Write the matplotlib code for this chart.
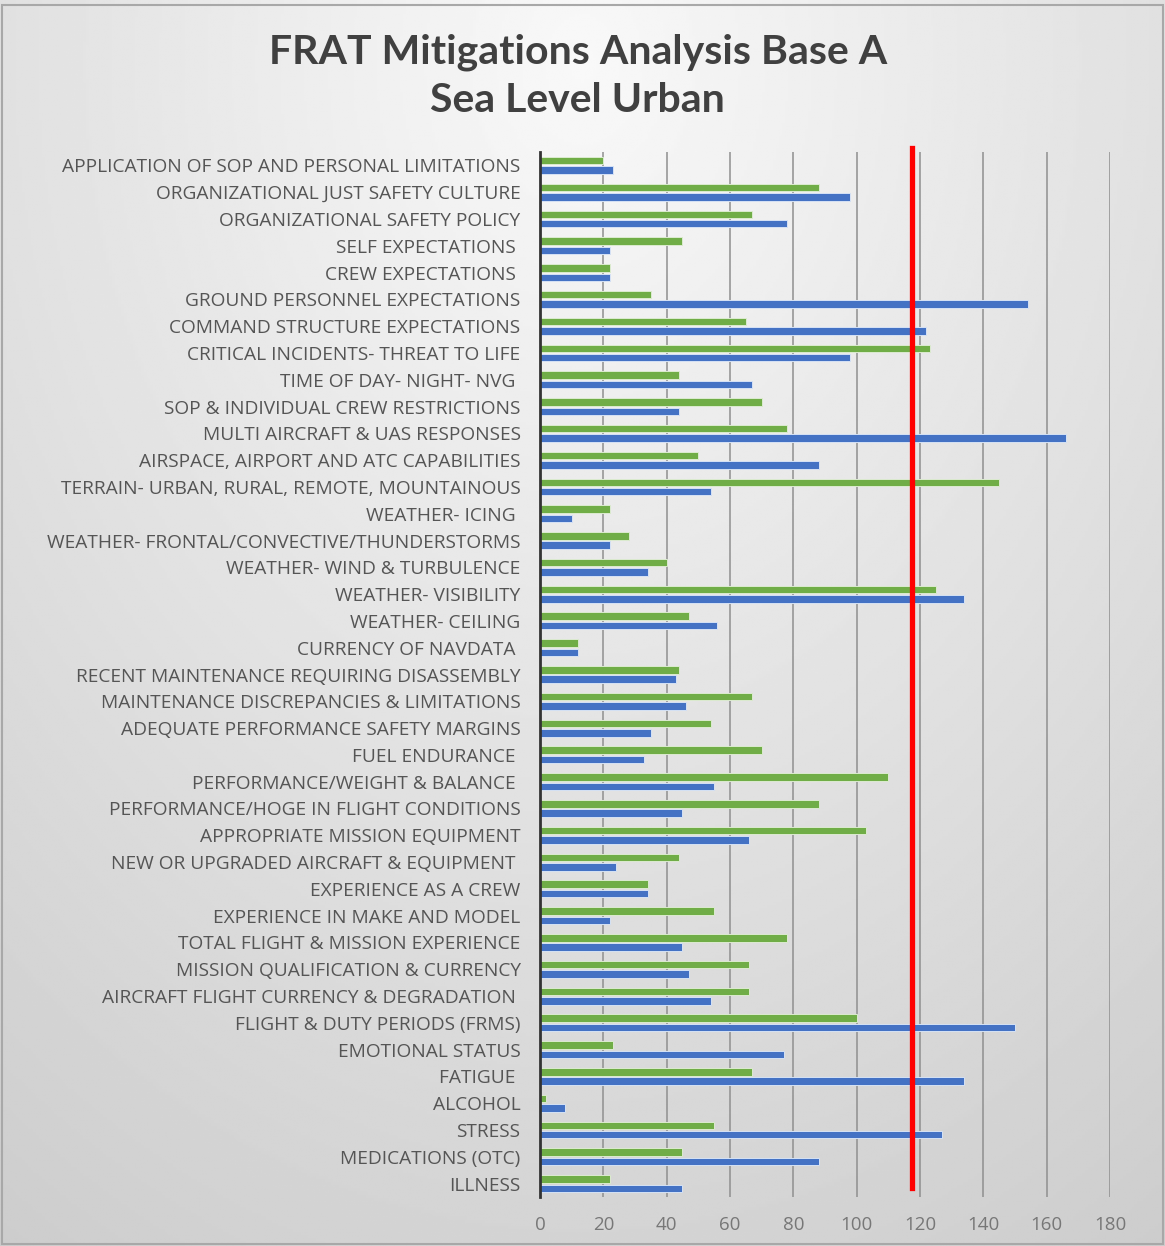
import numpy as np
import matplotlib
matplotlib.use('Agg')
import matplotlib.pyplot as plt
from matplotlib.patches import Rectangle

# ── 資料 ────────────────────────────────────────────────
categories = [
    'APPLICATION OF SOP AND PERSONAL LIMITATIONS',
    'ORGANIZATIONAL JUST SAFETY CULTURE',
    'ORGANIZATIONAL SAFETY POLICY',
    'SELF EXPECTATIONS ',
    'CREW EXPECTATIONS ',
    'GROUND PERSONNEL EXPECTATIONS',
    'COMMAND STRUCTURE EXPECTATIONS',
    'CRITICAL INCIDENTS- THREAT TO LIFE',
    'TIME OF DAY- NIGHT- NVG ',
    'SOP & INDIVIDUAL CREW RESTRICTIONS',
    'MULTI AIRCRAFT & UAS RESPONSES',
    'AIRSPACE, AIRPORT AND ATC CAPABILITIES',
    'TERRAIN- URBAN, RURAL, REMOTE, MOUNTAINOUS',
    'WEATHER- ICING ',
    'WEATHER- FRONTAL/CONVECTIVE/THUNDERSTORMS',
    'WEATHER- WIND & TURBULENCE',
    'WEATHER- VISIBILITY',
    'WEATHER- CEILING',
    'CURRENCY OF NAVDATA ',
    'RECENT MAINTENANCE REQUIRING DISASSEMBLY',
    'MAINTENANCE DISCREPANCIES & LIMITATIONS',
    'ADEQUATE PERFORMANCE SAFETY MARGINS',
    'FUEL ENDURANCE ',
    'PERFORMANCE/WEIGHT & BALANCE ',
    'PERFORMANCE/HOGE IN FLIGHT CONDITIONS',
    'APPROPRIATE MISSION EQUIPMENT',
    'NEW OR UPGRADED AIRCRAFT & EQUIPMENT ',
    'EXPERIENCE AS A CREW',
    'EXPERIENCE IN MAKE AND MODEL',
    'TOTAL FLIGHT & MISSION EXPERIENCE',
    'MISSION QUALIFICATION & CURRENCY',
    'AIRCRAFT FLIGHT CURRENCY & DEGRADATION ',
    'FLIGHT & DUTY PERIODS (FRMS)',
    'EMOTIONAL STATUS',
    'FATIGUE ',
    'ALCOHOL',
    'STRESS',
    'MEDICATIONS (OTC)',
    'ILLNESS',
]
green_vals = [20, 88, 67, 45, 22, 35, 65, 123, 44, 70,
              78, 50, 145, 22, 28, 40, 125, 47, 12, 44,
              67, 54, 70, 110, 88, 103, 44, 34, 55, 78,
              66, 66, 100, 23, 67, 2, 55, 45, 22]
blue_vals = [23, 98, 78, 22, 22, 154, 122, 98, 67, 44,
             166, 88, 54, 10, 22, 34, 134, 56, 12, 43,
             46, 35, 33, 55, 45, 66, 24, 34, 22, 45,
             47, 54, 150, 77, 134, 8, 127, 88, 45]
threshold = 117.5
x_ticks = list(range(0, 181, 20))

GREEN = '#70AD47'
BLUE = '#4472C4'
TXT = '#404040'

fig = plt.figure(figsize=(11.65, 12.46), dpi=100)

# 背景：上方偏白、四周偏灰的漸層
bg = fig.add_axes([0, 0, 1, 1], zorder=0)
yy, xx = np.mgrid[0:1:400j, 0:1:400j]
r = np.sqrt(((xx - 0.5) / 0.85) ** 2 + ((yy - 0.05) / 1.05) ** 2)
shade = 0.975 - 0.16 * np.clip(r, 0, 1.2)
bg.imshow(shade, cmap='gray', vmin=0, vmax=1, extent=(0, 1, 0, 1),
          origin='upper', aspect='auto')
bg.set_xlim(0, 1); bg.set_ylim(0, 1)
bg.axis('off')
bg.add_patch(Rectangle((0.002, 0.002), 0.996, 0.994, fill=False,
                       edgecolor='#a8a8a8', linewidth=1.5))

ax = fig.add_axes([0.4635, 0.0393, 0.4893, 0.8387], zorder=1)
ax.patch.set_alpha(0)

n = len(categories)
y = np.arange(n)
ax.barh(y - 0.175, green_vals, height=0.28, color=GREEN,
        edgecolor='#dcebd0', linewidth=0.7, zorder=2)
ax.barh(y + 0.175, blue_vals, height=0.28, color=BLUE,
        edgecolor='#d6e2f5', linewidth=0.7, zorder=2)

ax.set_xlim(0, 180)
ax.set_ylim(n - 0.5, -0.5)
ax.set_xticks(x_ticks)
ax.set_yticks(y)
ax.set_yticklabels(categories)
ax.xaxis.grid(True, color='#8f8f8f', linewidth=1.1)
ax.set_axisbelow(True)

for s in ('top', 'right', 'bottom'):
    ax.spines[s].set_visible(False)
ax.spines['left'].set_color('#333333')
ax.spines['left'].set_linewidth(2)
ax.spines['left'].set_zorder(3)

ax.tick_params(axis='x', length=0, pad=14, labelsize=13.5, labelcolor='#777777')
ax.tick_params(axis='y', length=0, pad=14, labelsize=13.8, labelcolor='#555555')
for lbl in ax.get_yticklabels() + ax.get_xticklabels():
    lbl.set_fontfamily('Open Sans')

# 門檻紅線
ax.axvline(threshold, ymin=0.0086, ymax=1.004, color='#ff0000',
           linewidth=3.8, zorder=4, clip_on=False)

fig.text(0.496, 0.958, 'FRAT Mitigations Analysis Base A', ha='center',
         va='center', fontsize=29.5, fontweight='bold', color=TXT, family='Lato')
fig.text(0.496, 0.919, 'Sea Level Urban', ha='center', va='center',
         fontsize=29.5, fontweight='bold', color=TXT, family='Lato')

fig.savefig('out.png', dpi=100)
